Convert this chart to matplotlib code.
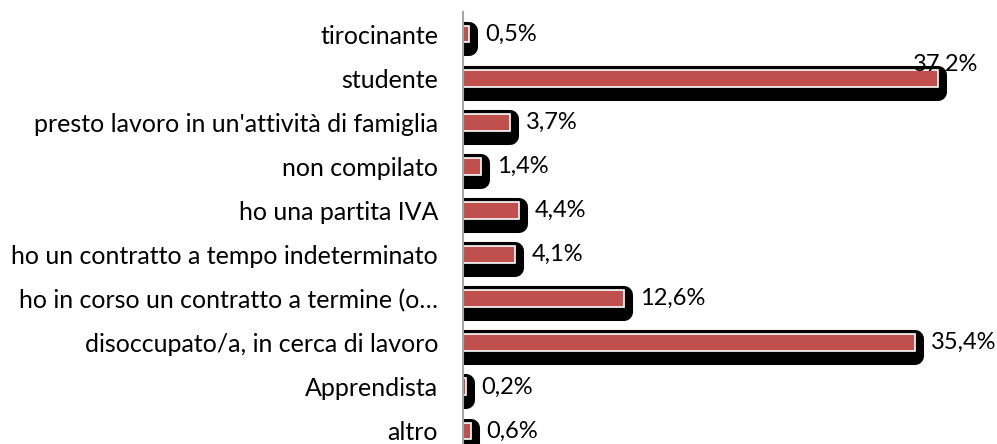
import matplotlib.pyplot as plt
import matplotlib.patheffects as pe

categories = [
    "altro",
    "Apprendista",
    "disoccupato/a, in cerca di lavoro",
    "ho in corso un contratto a termine (o…",
    "ho un contratto a tempo indeterminato",
    "ho una partita IVA",
    "non compilato",
    "presto lavoro in un'attività di famiglia",
    "studente",
    "tirocinante",
]
values = [0.6, 0.2, 35.4, 12.6, 4.1, 4.4, 1.4, 3.7, 37.2, 0.5]
labels = ["0,6%", "0,2%", "35,4%", "12,6%", "4,1%", "4,4%", "1,4%", "3,7%", "37,2%", "0,5%"]

BAR_COLOR = "#C0504D"
FONT = ["Lato", "DejaVu Sans"]
FS = 18
FS_VAL = 17

fig = plt.figure(figsize=(9.97, 4.44), dpi=100)
ax = fig.add_axes([463 / 997, -9 / 444, 522 / 997, 441 / 444])

# thick offset black outline acts as the rounded drop shadow
shadow = [
    pe.Stroke(offset=(0, -3.6), linewidth=13, foreground="black", joinstyle="round"),
    pe.Normal(),
]
y = range(len(categories))
bars = ax.barh(y, values, height=0.38, color=BAR_COLOR, edgecolor="white", linewidth=1.2)
for b in bars:
    b.set_path_effects(shadow)

for i, (v, lab) in enumerate(zip(values, labels)):
    if v == max(values):
        # label pushed inside the plot area, above the bar
        ax.annotate(lab, (v, i), xytext=(-18, 10), textcoords="offset points",
                    ha="left", va="center", fontsize=FS_VAL, family=FONT)
    else:
        ax.annotate(lab, (v, i), xytext=(11.5, 0), textcoords="offset points",
                    ha="left", va="center", fontsize=FS_VAL, family=FONT,
                    annotation_clip=False)

ax.set_xlim(0, 40.9)
ax.set_ylim(-0.5, len(categories) - 0.5)
ax.set_yticks(list(y))
ax.set_yticklabels(categories, fontsize=FS, family=FONT)
ax.tick_params(axis="y", length=0, pad=18)
ax.set_xticks([])
for s in ["top", "right", "bottom"]:
    ax.spines[s].set_visible(False)
ax.spines["left"].set_color("#A6A6A6")
ax.spines["left"].set_linewidth(1.5)
ax.spines["left"].set_zorder(5)

fig.savefig("out.png", dpi=100)
